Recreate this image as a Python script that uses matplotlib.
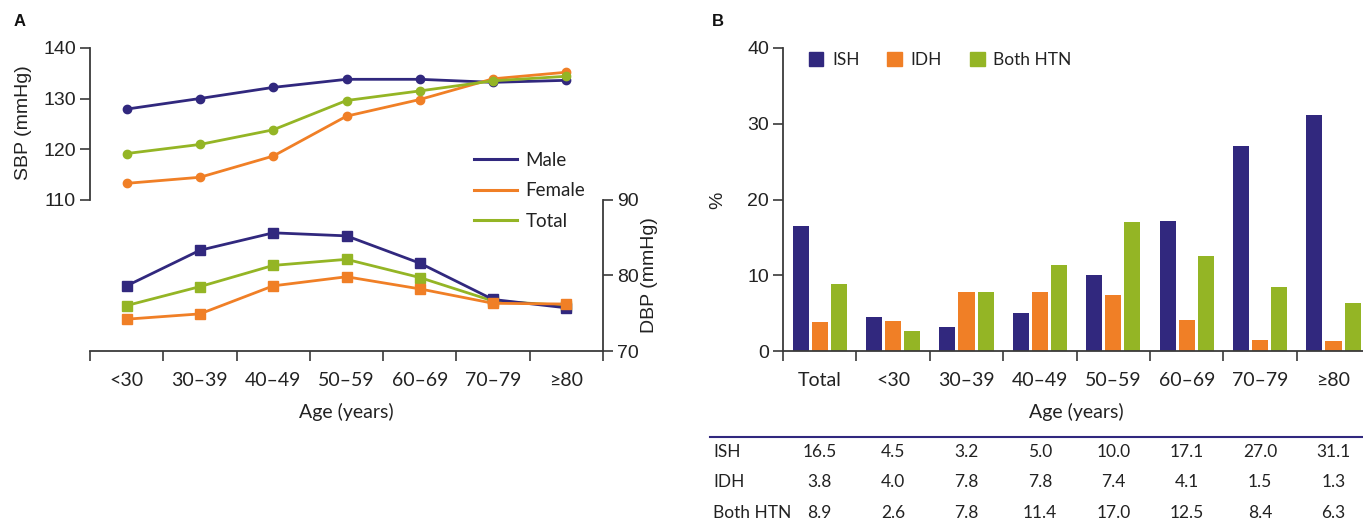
import matplotlib
matplotlib.use("Agg")
import matplotlib.pyplot as plt
import matplotlib.transforms as mtrans
from matplotlib.patches import Patch
from matplotlib.lines import Line2D
import numpy as np

# ---------------- data ----------------
age_groups = ["<30", "30\u201339", "40\u201349", "50\u201359", "60\u201369", "70\u201379", "\u226580"]
sbp_male = [127.9, 130.0, 132.2, 133.8, 133.8, 133.2, 133.6]
sbp_female = [113.2, 114.4, 118.6, 126.5, 129.8, 133.9, 135.2]
sbp_total = [119.1, 120.9, 123.8, 129.6, 131.5, 133.5, 134.4]
dbp_male = [78.6, 83.3, 85.6, 85.2, 81.6, 76.8, 75.7]
dbp_female = [74.2, 74.9, 78.6, 79.8, 78.2, 76.3, 76.2]
dbp_total = [76.0, 78.5, 81.3, 82.1, 79.7, 76.6, 76.0]

b_categories = ["Total", "<30", "30\u201339", "40\u201349", "50\u201359", "60\u201369", "70\u201379", "\u226580"]
ish = [16.5, 4.5, 3.2, 5.0, 10.0, 17.1, 27.0, 31.1]
idh = [3.8, 4.0, 7.8, 7.8, 7.4, 4.1, 1.5, 1.3]
both_htn = [8.9, 2.6, 7.8, 11.4, 17.0, 12.5, 8.4, 6.3]

NAVY = "#31287E"
ORANGE = "#F07F26"
GREEN = "#94B525"
SPINE = "#3a3a3a"
TXT = "#222222"

F_NUM = "Liberation Sans"
F_TXT = "Lato"

W, H = 1363, 522
fig = plt.figure(figsize=(W / 100, H / 100), dpi=100)

def fx(px):
    return px / W

def fy(py):
    return 1 - py / H

# ---------------- Panel A ----------------
axA = fig.add_axes([fx(90), fy(351), fx(603 - 90), (351 - 48) / H])
axA2 = axA.twinx()
x = np.arange(len(age_groups))
lw = 2.0
for vals, c in [(sbp_male, NAVY), (sbp_female, ORANGE), (sbp_total, GREEN)]:
    axA.plot(x, vals, color=c, lw=lw, marker="o", ms=6, zorder=3)
for vals, c in [(dbp_total, GREEN), (dbp_male, NAVY), (dbp_female, ORANGE)]:
    axA2.plot(x, vals, color=c, lw=lw, marker="s", ms=7, zorder=3)

axA.set_xlim(-0.5, len(age_groups) - 0.5)
axA.set_ylim(80, 140)
axA2.set_ylim(70, 110)
axA.set_yticks([110, 120, 130, 140])
axA2.set_yticks([70, 80, 90])

for ax in (axA, axA2):
    ax.spines["top"].set_visible(False)
    for s in ax.spines.values():
        s.set_color(SPINE)
        s.set_linewidth(1.3)
    ax.patch.set_visible(False)
axA.spines["right"].set_visible(False)
axA2.spines["left"].set_visible(False)
axA2.spines["bottom"].set_visible(False)
axA.spines["left"].set_bounds(110, 140)
axA2.spines["right"].set_bounds(70, 90)

axA.set_xticks(np.arange(-0.5, len(age_groups)), labels=[""] * (len(age_groups) + 1))
axA.set_xticks(x, labels=age_groups, minor=True)
axA.tick_params(axis="x", which="major", direction="out", length=7, width=1.2, color=SPINE)
axA.tick_params(axis="x", which="minor", length=0, pad=15, labelsize=14, labelcolor=TXT)
for t in axA.get_xticklabels(minor=True):
    t.set_fontfamily(F_TXT)
axA.tick_params(axis="y", direction="out", length=7, width=1.2, color=SPINE, labelsize=14, labelcolor=TXT, pad=3)
axA2.tick_params(axis="y", direction="out", length=7, width=1.2, color=SPINE, labelsize=14, labelcolor=TXT, pad=3)
for t in axA.get_yticklabels() + axA2.get_yticklabels():
    t.set_fontfamily(F_NUM)

axA.set_xlabel("Age (years)", fontsize=14, family=F_TXT, color=TXT, labelpad=10)
fig.text(fx(24), fy(123), "SBP (mmHg)", rotation=90, ha="center", va="center",
         fontsize=14, family=F_NUM, color=TXT)
fig.text(fx(650), fy(275), "DBP (mmHg)", rotation=90, ha="center", va="center",
         fontsize=14, family=F_NUM, color=TXT)

handlesA = [Line2D([0], [0], color=NAVY, lw=2.2),
            Line2D([0], [0], color=ORANGE, lw=2.2),
            Line2D([0], [0], color=GREEN, lw=2.2)]
legA = fig.legend(handlesA, ["Male", "Female", "Total"], loc="upper left",
                  bbox_to_anchor=(fx(457), fy(135)), frameon=False,
                  prop={"family": F_TXT, "size": 13.5}, handlelength=2.3,
                  handletextpad=0.45, labelspacing=0.72)
for t in legA.get_texts():
    t.set_color(TXT)

fig.text(fx(14), fy(21), "A", fontsize=12, fontweight="bold", family=F_NUM,
         ha="left", va="center", color="#111111")

# ---------------- Panel B ----------------
gw = 73.4
axB = fig.add_axes([fx(783), fy(351), fx(gw * 8), (351 - 48) / H])
xb = np.arange(len(b_categories))
bw = 0.22
off = 0.26
axB.bar(xb - off, ish, width=bw, color=NAVY, label="ISH", zorder=2)
axB.bar(xb, idh, width=bw, color=ORANGE, label="IDH", zorder=2)
axB.bar(xb + off, both_htn, width=bw, color=GREEN, label="Both HTN", zorder=2)
axB.set_xlim(-0.5, len(b_categories) - 0.5)
axB.set_ylim(0, 40)
axB.set_yticks([0, 10, 20, 30, 40])
for side in ("top", "right"):
    axB.spines[side].set_visible(False)
for s in axB.spines.values():
    s.set_color(SPINE)
    s.set_linewidth(1.3)
axB.set_xticks(np.arange(-0.5, len(b_categories) - 0.5), labels=[""] * len(b_categories))
axB.set_xticks(xb, labels=b_categories, minor=True)
axB.tick_params(axis="x", which="major", direction="out", length=7, width=1.2, color=SPINE)
axB.tick_params(axis="x", which="minor", length=0, pad=15, labelsize=14, labelcolor=TXT)
for t in axB.get_xticklabels(minor=True):
    t.set_fontfamily(F_TXT)
axB.tick_params(axis="y", direction="out", length=7, width=1.2, color=SPINE, labelsize=14, labelcolor=TXT, pad=3)
for t in axB.get_yticklabels():
    t.set_fontfamily(F_NUM)
axB.set_xlabel("Age (years)", fontsize=14, family=F_TXT, color=TXT, labelpad=10)
fig.text(fx(718), fy(200), "%", rotation=90, ha="center", va="center",
         fontsize=14, family=F_NUM, color=TXT)

handlesB = [Patch(color=NAVY), Patch(color=ORANGE), Patch(color=GREEN)]
legB = fig.legend(handlesB, ["ISH", "IDH", "Both HTN"], loc="center left",
                  bbox_to_anchor=(fx(793), fy(60)), frameon=False, ncol=3,
                  prop={"family": F_TXT, "size": 12.5}, handlelength=0.85,
                  handleheight=0.85, handletextpad=0.5, columnspacing=1.6)
for t in legB.get_texts():
    t.set_color(TXT)

fig.text(fx(712), fy(21), "B", fontsize=12, fontweight="bold", family=F_NUM,
         ha="left", va="center", color="#111111")

# table under panel B
fig.add_artist(Line2D([fx(710), 1.0], [fy(437), fy(437)], color=NAVY, lw=1.5))
trans = mtrans.blended_transform_factory(axB.transData, fig.transFigure)
rows = [("ISH", ish, 452), ("IDH", idh, 482), ("Both HTN", both_htn, 513)]
for name, vals, py in rows:
    fig.text(fx(713), fy(py), name, ha="left", va="center", fontsize=12.5,
             family=F_TXT, color=TXT)
    for xi, v in zip(xb, vals):
        axB.text(xi, fy(py), f"{v:.1f}", transform=trans, ha="center", va="center",
                 fontsize=12.5, family=F_TXT, color=TXT, clip_on=False)

fig.savefig("out.png", dpi=100)
